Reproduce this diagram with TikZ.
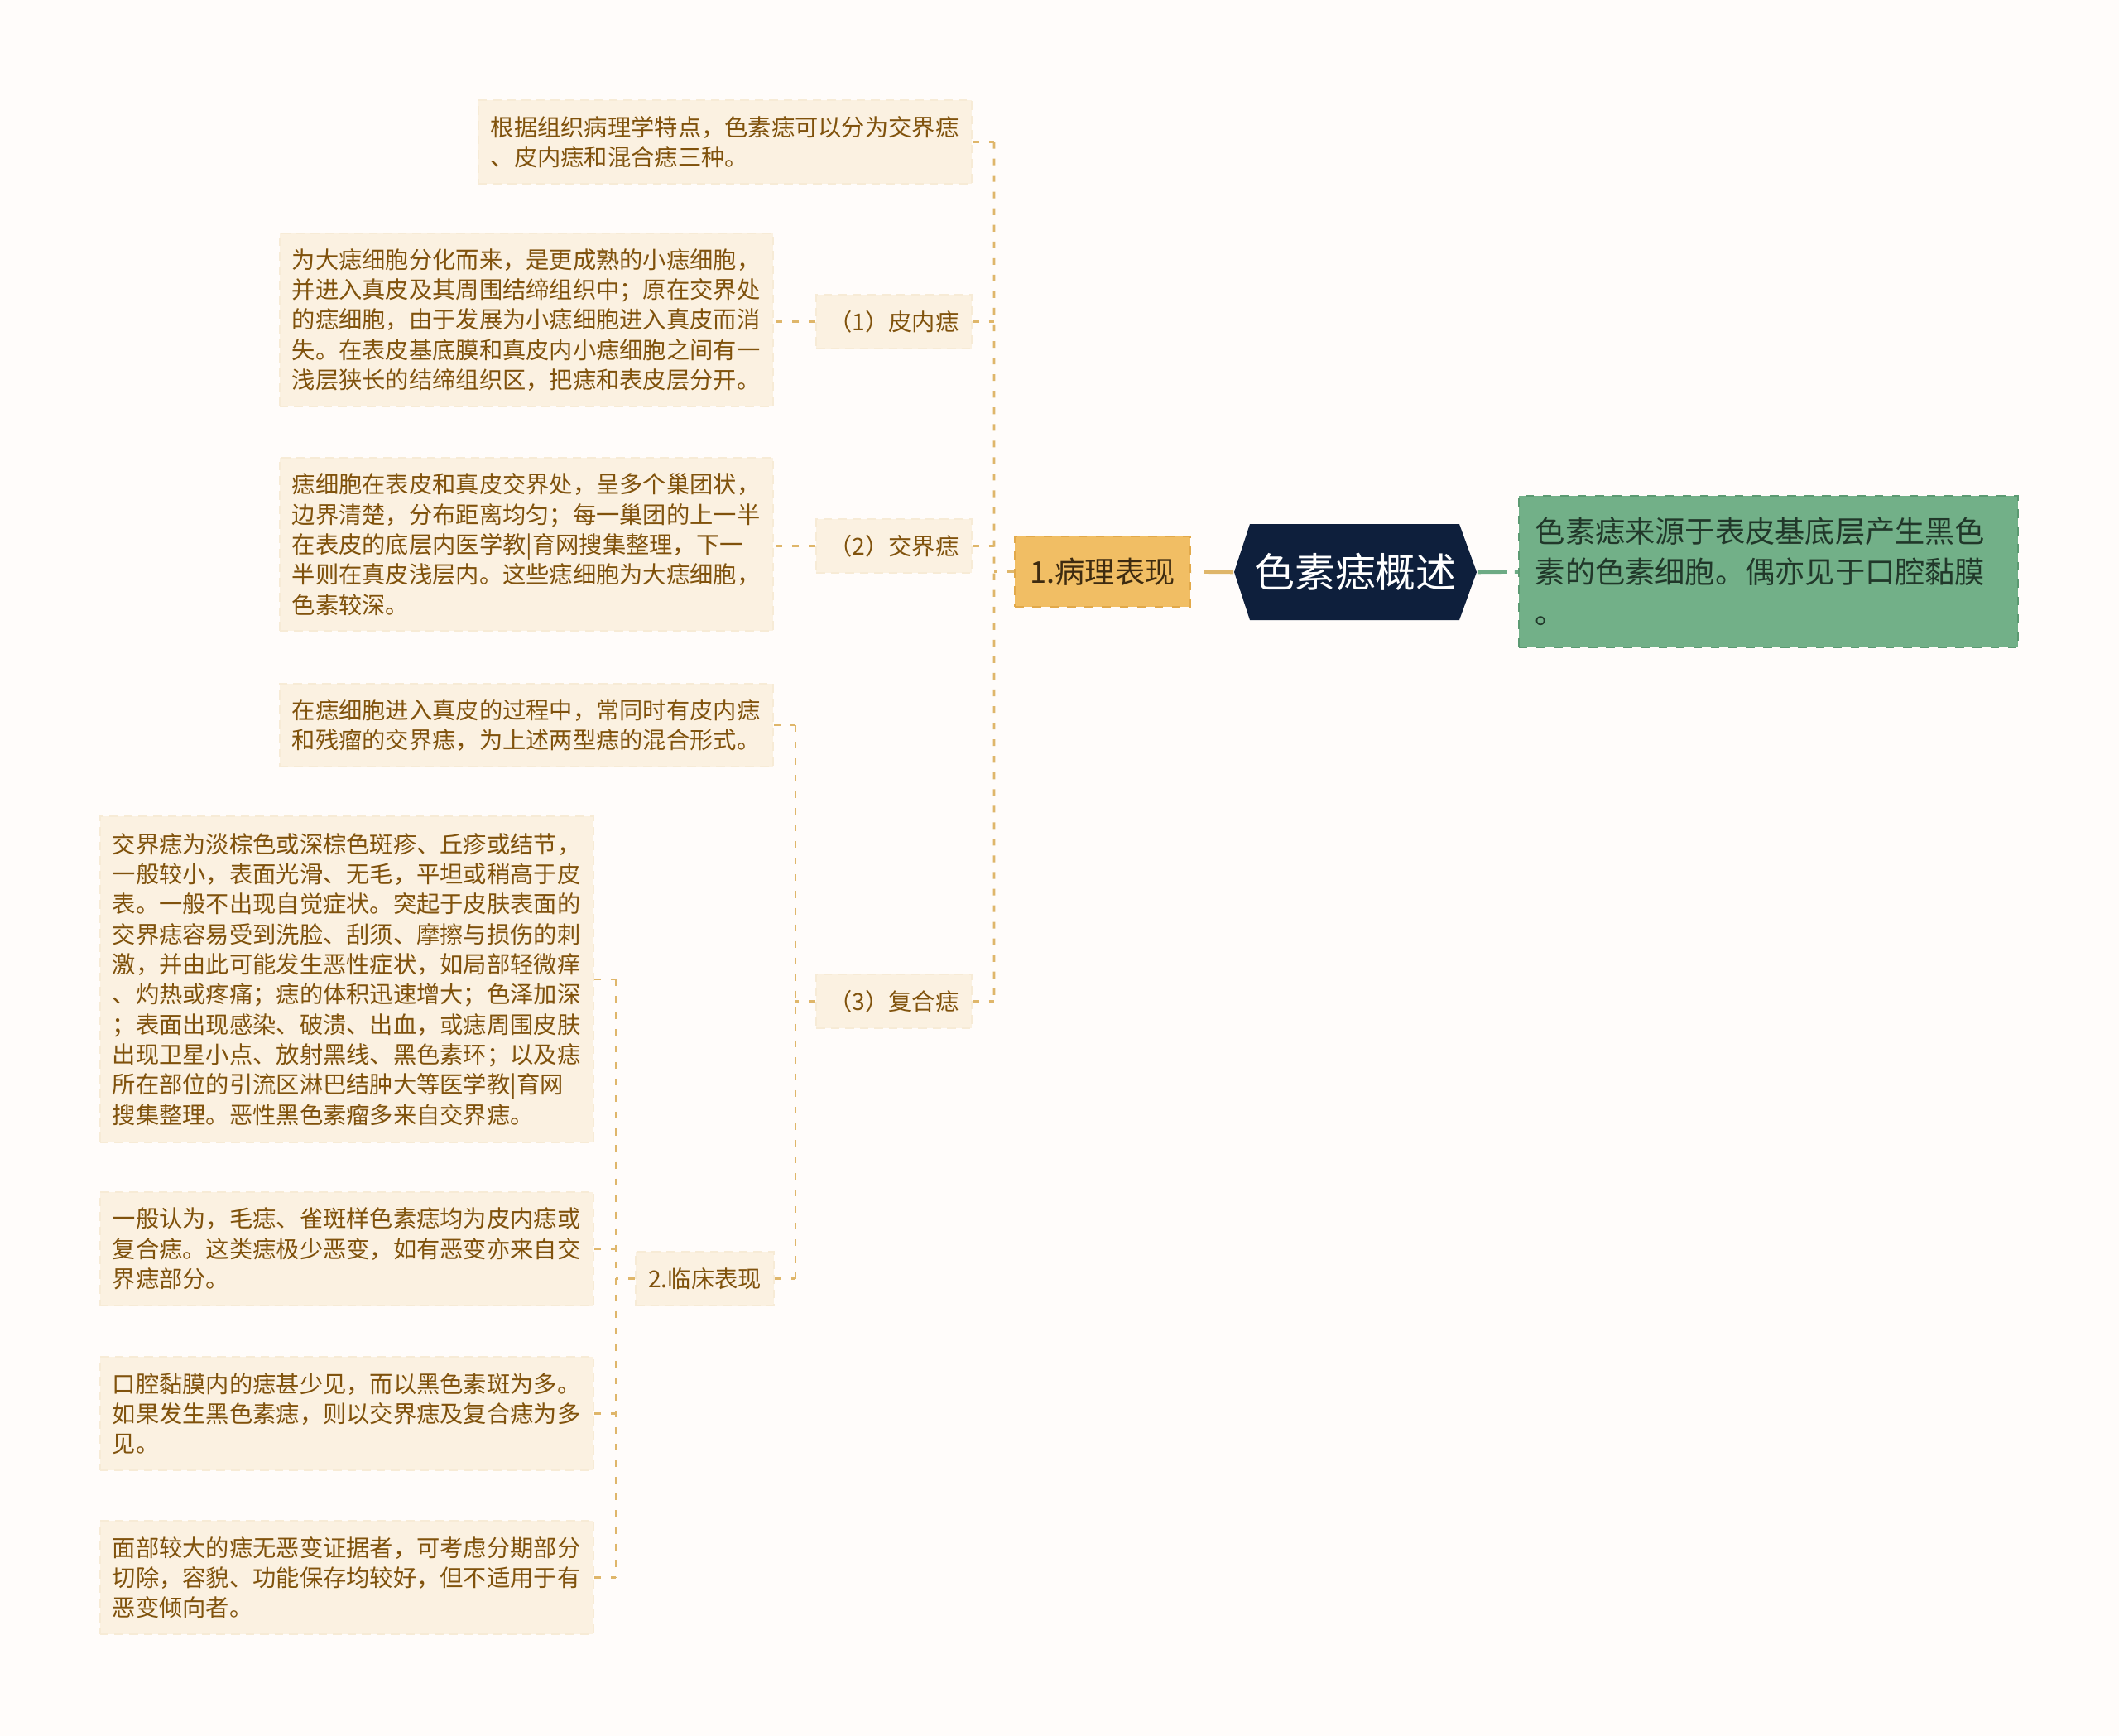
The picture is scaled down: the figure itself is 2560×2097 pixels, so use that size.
\documentclass[tikz,border=0pt]{standalone}
\usepackage{fontspec}
\newfontfamily\cjk{Noto Sans CJK SC}
\usetikzlibrary{calc}
\definecolor{bg}{HTML}{FFFCFA}
\definecolor{leaffill}{HTML}{FBF1E1}
\definecolor{leafedge}{HTML}{F7EBD6}
\definecolor{leaftext}{HTML}{80520C}
\definecolor{connc}{HTML}{DFB66A}
\definecolor{pathofill}{HTML}{F1BE64}
\definecolor{pathoedge}{HTML}{E2A94A}
\definecolor{pathotext}{HTML}{3E2B10}
\definecolor{navy}{HTML}{0E1F3C}
\definecolor{greenfill}{HTML}{72B088}
\definecolor{greenedge}{HTML}{5C9A72}
\definecolor{greentext}{HTML}{21382A}
\definecolor{greenline}{HTML}{6DAA84}
\tikzset{
  leaf/.style={fill=leaffill, draw=leafedge, densely dashed, line width=0.5pt,
    text=leaftext, font=\cjk\fontsize{8.04pt}{10.33pt}\selectfont,
    text width=5.66cm, align=left, inner xsep=0.15cm, inner ysep=0pt},
  lab/.style={fill=leaffill, draw=leafedge, densely dashed, line width=0.5pt,
    text=leaftext, font=\cjk\fontsize{8.04pt}{10.33pt}\selectfont,
    inner sep=0pt, minimum height=0.65cm},
  conn/.style={draw=connc, line width=0.75pt, dash pattern=on 2.3pt off 3.4pt},
}
\begin{document}
\begin{tikzpicture}[x=0.01cm, y=-0.01cm]
\fill[bg] (0,0) rectangle (2560,2097);
\useasboundingbox (0,0) rectangle (2560,2097);

% central hexagon
\fill[navy] (1491,691) -- (1510,633) -- (1763,633) -- (1784,691) -- (1763,749) -- (1510,749) -- cycle;
\node[inner sep=0pt, minimum width=2.93cm, minimum height=1.16cm, text=white,
  font=\cjk\fontsize{13.9pt}{16pt}\selectfont] (central) at (1637.5,691) {色素痣概述};

% green description
\node[fill=greenfill, draw=greenedge, dashed, line width=0.6pt, text=greentext,
  font=\cjk\fontsize{10.3pt}{14pt}\selectfont, text width=5.63cm, align=left,
  inner xsep=0.2cm, inner ysep=0pt, minimum height=1.83cm] (green) at (2136.5,690.5)
  {色素痣来源于表皮基底层产生黑色\\素的色素细胞。偶亦见于口腔黏膜\\。};

% main branch
\node[fill=pathofill, draw=pathoedge, dashed, line width=0.6pt, text=pathotext,
  font=\cjk\fontsize{10.3pt}{12pt}\selectfont, inner sep=0pt,
  minimum width=2.12cm, minimum height=0.85cm] (patho) at (1332,690.5) {1.病理表现};

% leaves of branch 1
\node[leaf, minimum height=1.01cm] (boxA) at (876,171.5)
  {根据组织病理学特点，色素痣可以分为交界痣\\、皮内痣和混合痣三种。};
\node[leaf, minimum height=2.09cm] (boxB) at (636,386.5)
  {为大痣细胞分化而来，是更成熟的小痣细胞，\\并进入真皮及其周围结缔组织中；原在交界处\\的痣细胞，由于发展为小痣细胞进入真皮而消\\失。在表皮基底膜和真皮内小痣细胞之间有一\\浅层狭长的结缔组织区，把痣和表皮层分开。};
\node[lab, minimum width=1.88cm] (lab1) at (1080,388.5) {（1）皮内痣};
\node[leaf, minimum height=2.09cm] (boxC) at (636,657.5)
  {痣细胞在表皮和真皮交界处，呈多个巢团状，\\边界清楚，分布距离均匀；每一巢团的上一半\\在表皮的底层内医学教|育网搜集整理，下一\\半则在真皮浅层内。这些痣细胞为大痣细胞，\\色素较深。};
\node[lab, minimum width=1.88cm] (lab2) at (1080,659.5) {（2）交界痣};
\node[lab, minimum width=1.88cm] (lab3) at (1080,1209.5) {（3）复合痣};

% children of (3)
\node[leaf, minimum height=1.00cm] (boxD) at (636,876)
  {在痣细胞进入真皮的过程中，常同时有皮内痣\\和残瘤的交界痣，为上述两型痣的混合形式。};
\node[lab, minimum width=1.67cm] (lab4) at (851.5,1544.5) {2.临床表现};

% children of 2.临床表现
\node[leaf, minimum height=3.94cm] (boxE) at (419,1183)
  {交界痣为淡棕色或深棕色斑疹、丘疹或结节，\\一般较小，表面光滑、无毛，平坦或稍高于皮\\表。一般不出现自觉症状。突起于皮肤表面的\\交界痣容易受到洗脸、刮须、摩擦与损伤的刺\\激，并由此可能发生恶性症状，如局部轻微痒\\、灼热或疼痛；痣的体积迅速增大；色泽加深\\；表面出现感染、破溃、出血，或痣周围皮肤\\出现卫星小点、放射黑线、黑色素环；以及痣\\所在部位的引流区淋巴结肿大等医学教|育网\\搜集整理。恶性黑色素瘤多来自交界痣。};
\node[leaf, minimum height=1.37cm] (boxF) at (419,1508.5)
  {一般认为，毛痣、雀斑样色素痣均为皮内痣或\\复合痣。这类痣极少恶变，如有恶变亦来自交\\界痣部分。};
\node[leaf, minimum height=1.37cm] (boxG) at (419,1707.5)
  {口腔黏膜内的痣甚少见，而以黑色素斑为多。\\如果发生黑色素痣，则以交界痣及复合痣为多\\见。};
\node[leaf, minimum height=1.37cm] (boxH) at (419,1905.5)
  {面部较大的痣无恶变证据者，可考虑分期部分\\切除，容貌、功能保存均较好，但不适用于有\\恶变倾向者。};

% thick connectors from the centre
\draw[draw=connc, line width=1.3pt, dash pattern=on 0.36cm off 0.15cm] (central.west) -- (patho.east);
\draw[draw=greenline, line width=1.3pt, dash pattern=on 0.36cm off 0.09cm] (central.east) -- (green.west);

% spine of 1.病理表现
\coordinate (s1t) at ($(boxA.east)+(26,0)$);
\coordinate (s1b) at ($(lab3.east)+(26,0)$);
\draw[conn] (s1t) -- (s1b);
\draw[conn] (patho.west) -- (patho.west -| s1t);
\foreach \c in {boxA,lab1,lab2,lab3} \draw[conn] (\c.east) -- (\c.east -| s1t);

% (1), (2) to their leaves
\draw[conn] (lab1.west) -- (boxB.east |- lab1.west);
\draw[conn] (lab2.west) -- (boxC.east |- lab2.west);

% spine of (3)
\coordinate (s2t) at ($(boxD.east)+(26,0)$);
\coordinate (s2b) at ($(boxD.east |- lab4.east)+(26,0)$);
\draw[conn] (s2t) -- (s2b);
\draw[conn] (lab3.west) -- (lab3.west -| s2t);
\draw[conn] (boxD.east) -- (s2t);
\draw[conn] (lab4.east) -- (s2b);

% spine of 2.临床表现
\coordinate (s3t) at ($(boxE.east)+(26,0)$);
\coordinate (s3b) at ($(boxH.east)+(26,0)$);
\draw[conn] (s3t) -- (s3b);
\draw[conn] (lab4.west) -- (lab4.west -| s3t);
\foreach \c in {boxE,boxF,boxG,boxH} \draw[conn] (\c.east) -- (\c.east -| s3t);
\end{tikzpicture}
\end{document}
